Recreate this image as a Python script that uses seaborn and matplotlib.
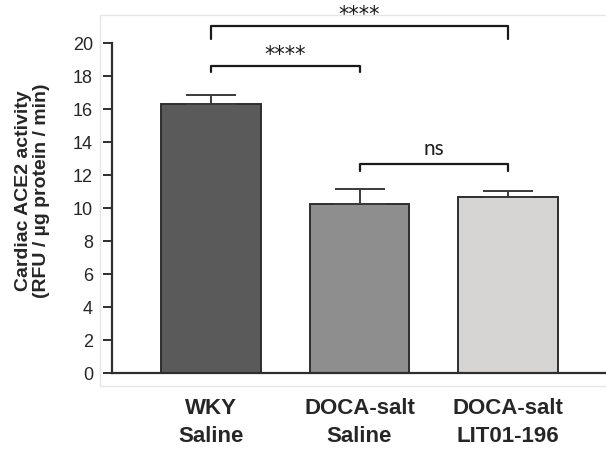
import numpy as np
import pandas as pd
import matplotlib
matplotlib.use("Agg")
import matplotlib.pyplot as plt
import seaborn as sns
from matplotlib.patches import Rectangle

groups = ["WKY\nSaline", "DOCA-salt\nSaline", "DOCA-salt\nLIT01-196"]
means = [16.3, 10.25, 10.7]
sems = [0.57, 0.9, 0.35]
bar_colors = ["#5a5a5a", "#8e8e8e", "#d8d5d2"]
y_ticks = [0, 2, 4, 6, 8, 10, 12, 14, 16, 18, 20]

# brackets: (left bar, right bar, line height, tick bottom, label)
brackets = [
    (0, 1, 18.65, 18.25, "****"),
    (0, 2, 21.05, 20.25, "****"),
    (1, 2, 12.67, 12.28, "ns"),
]

sns.set_style("white")
plt.rcParams["font.family"] = ["Liberation Sans", "DejaVu Sans"]

df = pd.DataFrame({"group": groups, "activity": means})

fig = plt.figure(figsize=(6.06, 4.5), dpi=100)
ax = fig.add_axes([0.1843, 0.1704, 0.8157, 0.825])

sns.barplot(data=df, x="group", y="activity", hue="group", palette=bar_colors,
            width=0.673, edgecolor="#2e2e2e", linewidth=1.4, legend=False, ax=ax)

ax.errorbar(range(len(groups)), means, yerr=[[0] * 3, sems], fmt="none",
            ecolor="#3a3a3a", elinewidth=1.4, capsize=18, capthick=1.4, zorder=1)

for i, j, h, b, lab in brackets:
    ax.plot([i, i, j, j], [b, h, h, b], color="#1a1a1a", lw=1.6, clip_on=False)
    if lab == "ns":
        ax.text((i + j) / 2, h + 0.95, lab, ha="center", va="center",
                fontsize=15, family=["Lato", "DejaVu Sans"], color="#1a1a1a")
    else:
        ax.text((i + j) / 2, h + 0.3, lab, ha="center", va="baseline",
                fontsize=15, family=["DejaVu Sans"], color="#1a1a1a")

ax.set_xlim(-0.669, 2.66)
ax.set_ylim(0, 22.5)
ax.set_yticks(y_ticks)
ax.tick_params(axis="y", direction="out", length=6.5, width=1.4, color="#2e2e2e",
               labelsize=13, pad=7, left=True)
ax.tick_params(axis="x", length=0, labelsize=16, pad=18)
for lbl in ax.get_xticklabels():
    lbl.set_fontweight("bold")
    lbl.set_linespacing(1.4)

for s in ["top", "right"]:
    ax.spines[s].set_visible(False)
ax.spines["left"].set_bounds(0, 20)
for s in ["left", "bottom"]:
    ax.spines[s].set_color("#2e2e2e")
    ax.spines[s].set_linewidth(1.6)

ax.set_xlabel("")
ax.set_ylabel("Cardiac ACE2 activity\n(RFU / µg protein / min)", fontsize=14,
              fontweight="bold", linespacing=1.1)
ax.yaxis.set_label_coords(-0.125, 0.491)

# faint frame around the plot area
fig.patches.append(Rectangle((100 / 606, (450 - 386) / 450), 1.0, (386 - 15) / 450,
                             transform=fig.transFigure, fill=False,
                             edgecolor="#e6e6e6", lw=1.0, zorder=0))

fig.savefig("out.png", dpi=100)
